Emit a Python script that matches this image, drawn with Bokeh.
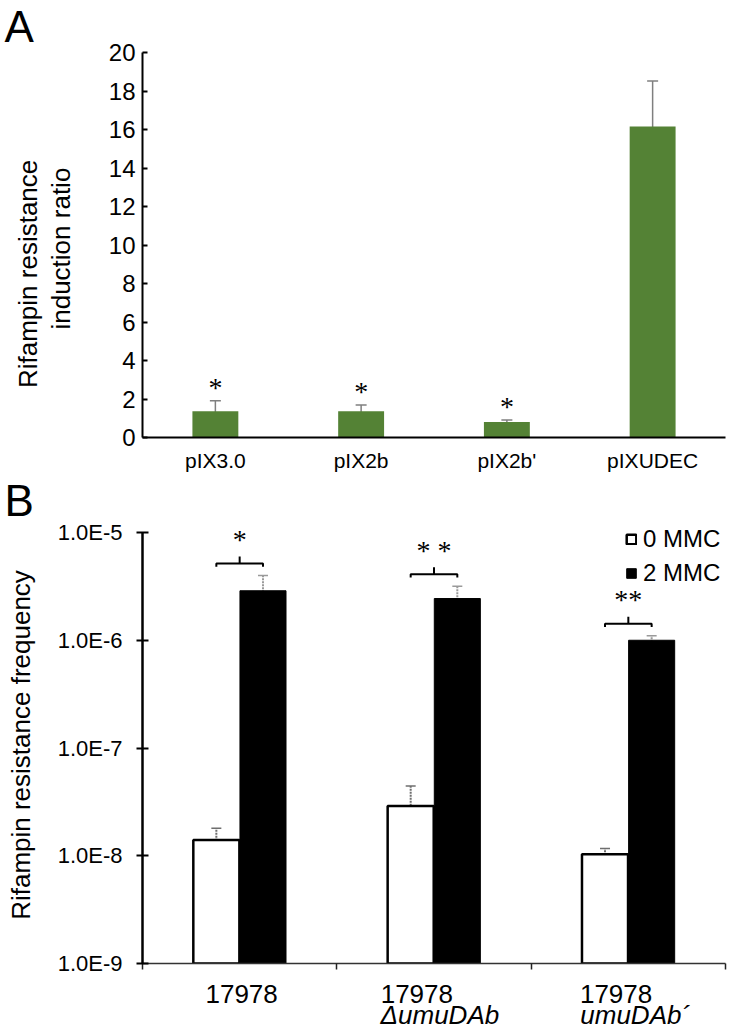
import math
from bokeh.plotting import figure
from bokeh.models import (Range1d, FixedTicker, Whisker, TeeHead, ColumnDataSource,
                          LabelSet, Legend, LegendItem, CustomJSTickFormatter,
                          LinearAxis, Title)
from bokeh.layouts import column
from bokeh.embed import file_html
from bokeh.resources import INLINE

FONT = "Liberation Sans"
NBSP = "\u00a0"

# ---------------- Panel A data ----------------
plasmids = ["pIX3.0", "pIX2b", "pIX2b'", "pIXUDEC"]
ratio = [1.36, 1.36, 0.81, 16.16]
ratio_err = [0.55, 0.33, 0.10, 2.36]
ratio_sig = ["*", "*", "*", ""]
a_ticks = [0, 2, 4, 6, 8, 10, 12, 14, 16, 18, 20]
a_title = ["Rifampin resistance", "induction ratio"]

# ---------------- Panel B data ----------------
strain_line1 = ["17978", "17978", "17978"]
strain_line2 = ["", "\u0394umuDAb", "umuDAb\u00b4"]
series = ["0 MMC", "2 MMC"]
freq_0mmc = [1.4e-8, 2.9e-8, 1.03e-8]
freq_0mmc_err = [0.4e-8, 1.55e-8, 0.14e-8]
freq_2mmc = [2.88e-6, 2.44e-6, 1.0e-6]
freq_2mmc_err = [1.1e-6, 0.73e-6, 0.1e-6]
pair_sig = ["*", "* *", "**"]
b_ticks = [1e-9, 1e-8, 1e-7, 1e-6, 1e-5]
b_tick_labels = ["1.0E-9", "1.0E-8", "1.0E-7", "1.0E-6", "1.0E-5"]
b_title = "Rifampin resistance frequency"

GREEN = "#548235"
ERR_A = "#7f7f7f"
ERR_B = "#6e6e6e"


def panel_title(letter):
    return Title(text=letter, align="left", vertical_align="top", offset=-138,
                 standoff=0, text_font=FONT, text_font_size="44px",
                 text_font_style="normal", text_color="black")


# ================= Panel A =================
pa = figure(width=738, height=474, x_range=Range1d(0, len(plasmids)),
            y_range=Range1d(a_ticks[0], a_ticks[-1]),
            output_backend="svg", toolbar_location=None,
            min_border_left=141, min_border_right=13, min_border_top=52, min_border_bottom=35)
pa.grid.visible = False
pa.outline_line_color = None
pa.background_fill_color = "white"
pa.border_fill_color = "white"
pa.add_layout(panel_title("A"), "above")

xa = [i + 0.5 for i in range(len(plasmids))]
pa.vbar(x=xa, top=ratio, bottom=0, width=0.315, fill_color=GREEN, line_color=None)

src_a = ColumnDataSource(dict(
    x=xa,
    up=[v + e for v, e in zip(ratio, ratio_err)],
    lo=[v - e for v, e in zip(ratio, ratio_err)],
    sig=ratio_sig,
))
pa.add_layout(Whisker(base="x", upper="up", lower="lo", source=src_a,
                      line_color=ERR_A, line_width=1.5,
                      upper_head=TeeHead(size=11, line_color=ERR_A, line_width=1.5),
                      lower_head=TeeHead(size=11, line_color=ERR_A, line_width=1.5)))
pa.add_layout(LabelSet(x="x", y="up", text="sig", source=src_a, y_offset=13,
                       text_align="center", text_baseline="middle",
                       text_font=FONT, text_font_size="28px", text_color="black"))

pa.xaxis.ticker = FixedTicker(ticks=xa)
pa.xaxis.formatter = CustomJSTickFormatter(args=dict(labels=plasmids),
                                           code="return labels[index];")
pa.xaxis.major_tick_line_color = None
pa.xaxis.major_tick_out = 0
pa.xaxis.major_tick_in = 0
pa.xaxis.minor_tick_line_color = None
pa.xaxis.axis_line_width = 2
pa.xaxis.axis_line_color = "black"
pa.xaxis.major_label_text_font = FONT
pa.xaxis.major_label_text_font_size = "21px"
pa.xaxis.major_label_text_color = "black"
pa.xaxis.major_label_standoff = 11

pa.yaxis.ticker = FixedTicker(ticks=a_ticks)
pa.yaxis.major_tick_in = 5
pa.yaxis.major_tick_out = 0
pa.yaxis.major_tick_line_width = 2
pa.yaxis.major_tick_line_color = "black"
pa.yaxis.minor_tick_line_color = None
pa.yaxis.axis_line_width = 2
pa.yaxis.axis_line_color = "black"
pa.yaxis.major_label_text_font = FONT
pa.yaxis.major_label_text_font_size = "24px"
pa.yaxis.major_label_text_color = "black"
pa.yaxis.major_label_standoff = 7
# second title line on the inner (real) axis
pa.yaxis.axis_label = a_title[1] + NBSP
pa.yaxis.axis_label_text_font = FONT
pa.yaxis.axis_label_text_font_size = "26px"
pa.yaxis.axis_label_text_font_style = "normal"
pa.yaxis.axis_label_text_color = "black"
pa.yaxis.axis_label_standoff = 30
# first title line on an outer, otherwise empty axis
outer = LinearAxis(ticker=FixedTicker(ticks=[]), axis_line_color=None,
                   major_tick_line_color=None, minor_tick_line_color=None,
                   major_tick_in=0, major_tick_out=0, major_label_standoff=0,
                   major_label_text_font_size="0px",
                   axis_label=a_title[0] + NBSP * 8, axis_label_standoff=0,
                   axis_label_text_font=FONT, axis_label_text_font_size="26px",
                   axis_label_text_font_style="normal", axis_label_text_color="black")
pa.add_layout(outer, "left")

# ================= Panel B =================
n = len(strain_line1)
decades = math.log10(b_ticks[-1] / b_ticks[0])
frame_h = 964 - 528
ext = decades * (frame_h / (frame_h - 6)) - decades
pb = figure(width=738, height=558, x_range=Range1d(0, n),
            y_range=Range1d(b_ticks[0], b_ticks[-1] * 10 ** ext), y_axis_type="log",
            output_backend="svg", toolbar_location=None,
            min_border_left=142, min_border_right=1, min_border_top=52, min_border_bottom=68)
pb.grid.visible = False
pb.outline_line_color = None
pb.background_fill_color = "white"
pb.border_fill_color = "white"
pb.add_layout(panel_title("B"), "above")

dx = 0.12
bw = 0.237
x0 = [i + 0.5 - dx for i in range(n)]
x2 = [i + 0.5 + dx for i in range(n)]
xc = [i + 0.5 for i in range(n)]

r0 = pb.vbar(x=x0, top=freq_0mmc, bottom=b_ticks[0], width=bw,
             fill_color="white", line_color="black", line_width=2.5)
r2 = pb.vbar(x=x2, top=freq_2mmc, bottom=b_ticks[0], width=bw,
             fill_color="black", line_color="black", line_width=1)

for xs, vals, errs, col in [(x0, freq_0mmc, freq_0mmc_err, ERR_B),
                            (x2, freq_2mmc, freq_2mmc_err, "#9a9a9a")]:
    s = ColumnDataSource(dict(x=xs, up=[v + e for v, e in zip(vals, errs)],
                              lo=[v - e for v, e in zip(vals, errs)]))
    pb.add_layout(Whisker(base="x", upper="up", lower="lo", source=s,
                          line_color=col, line_width=2, line_dash="2 1",
                          upper_head=TeeHead(size=10, line_color=col, line_width=1.5),
                          lower_head=TeeHead(size=10, line_color=col, line_width=1.5)))

# significance brackets
br_xs, br_ys, star_x, star_y = [], [], [], []
for i in range(n):
    top = max(freq_0mmc[i] + freq_0mmc_err[i], freq_2mmc[i] + freq_2mmc_err[i])
    yb = top * 10 ** 0.112
    ydn = yb * 10 ** (-0.03)
    yup = yb * 10 ** 0.065
    br_xs += [[x0[i], x0[i], x2[i], x2[i]], [xc[i], xc[i]]]
    br_ys += [[ydn, yb, yb, ydn], [yb, yup]]
    star_x.append(xc[i])
    star_y.append(yb)
pb.multi_line(xs=br_xs, ys=br_ys, line_color="black", line_width=2)
pb.add_layout(LabelSet(x="x", y="y", text="t", y_offset=24,
                       source=ColumnDataSource(dict(x=star_x, y=star_y, t=pair_sig)),
                       text_align="center", text_baseline="middle",
                       text_font=FONT, text_font_size="28px", text_color="black"))

legend = Legend(items=[LegendItem(label=series[0], renderers=[r0]),
                       LegendItem(label=series[1], renderers=[r2])],
                location=(483, 376), orientation="vertical",
                glyph_width=12, glyph_height=12, label_height=24, spacing=6,
                label_standoff=6, padding=0, margin=0,
                border_line_color=None, background_fill_alpha=0,
                label_text_font=FONT, label_text_font_size="24px", label_text_color="black")
pb.add_layout(legend)

# main x axis: category boundary ticks only (drawn outward without taking panel room)
pb.xaxis.ticker = FixedTicker(ticks=list(range(n + 1)))
pb.xaxis.major_label_text_font_size = "0px"
pb.xaxis.major_label_standoff = 0
pb.xaxis.major_tick_in = -6
pb.xaxis.major_tick_out = 0
pb.xaxis.major_tick_line_color = "#222222"
pb.xaxis.major_tick_line_width = 1.5
pb.xaxis.minor_tick_line_color = None
pb.xaxis.axis_line_color = "#333333"
pb.xaxis.axis_line_width = 1.5

# label rows (line 1 plain, line 2 italic), lines left-aligned inside each group
cat_px = 198.3
line1_shift = [2, -17.5, -12.5]
line2_shift = [0, 6, 7]
l1_ticks = [xc[i] + line1_shift[i] / cat_px for i in range(n)]
l2_idx = [i for i in range(n) if strain_line2[i]]
l2_ticks = [xc[i] + line2_shift[i] / cat_px for i in l2_idx]
l2_text = [strain_line2[i] for i in l2_idx]
for ticks, texts, style, standoff in [(l1_ticks, strain_line1, "normal", 21),
                                      (l2_ticks, l2_text, "italic", -6)]:
    ax = LinearAxis(ticker=FixedTicker(ticks=ticks),
                    formatter=CustomJSTickFormatter(args=dict(labels=texts),
                                                    code="return labels[index];"),
                    axis_line_color=None, major_tick_line_color=None,
                    minor_tick_line_color=None, major_tick_in=0, major_tick_out=0,
                    major_label_standoff=standoff,
                    major_label_text_font=FONT, major_label_text_font_size="26px",
                    major_label_text_font_style=style, major_label_text_color="black")
    pb.add_layout(ax, "below")

pb.yaxis.ticker = FixedTicker(ticks=b_ticks)
pb.yaxis.formatter = CustomJSTickFormatter(args=dict(labels=b_tick_labels),
                                           code="return labels[index];")
pb.yaxis.bounds = (b_ticks[0], b_ticks[-1])
pb.yaxis.major_tick_in = 6
pb.yaxis.major_tick_out = 6
pb.yaxis.major_tick_line_width = 2
pb.yaxis.major_tick_line_color = "black"
pb.yaxis.minor_tick_line_color = None
pb.yaxis.axis_line_width = 2.5
pb.yaxis.axis_line_color = "black"
pb.yaxis.major_label_text_font = FONT
pb.yaxis.major_label_text_font_size = "22px"
pb.yaxis.major_label_text_color = "black"
pb.yaxis.major_label_standoff = 14
pb.yaxis.axis_label = b_title
pb.yaxis.axis_label_text_font = FONT
pb.yaxis.axis_label_text_font_size = "26px"
pb.yaxis.axis_label_text_font_style = "normal"
pb.yaxis.axis_label_text_color = "black"
pb.yaxis.axis_label_standoff = 19

layout = column(pa, pb, spacing=0)
open("out.html", "w").write(file_html(layout, INLINE))
